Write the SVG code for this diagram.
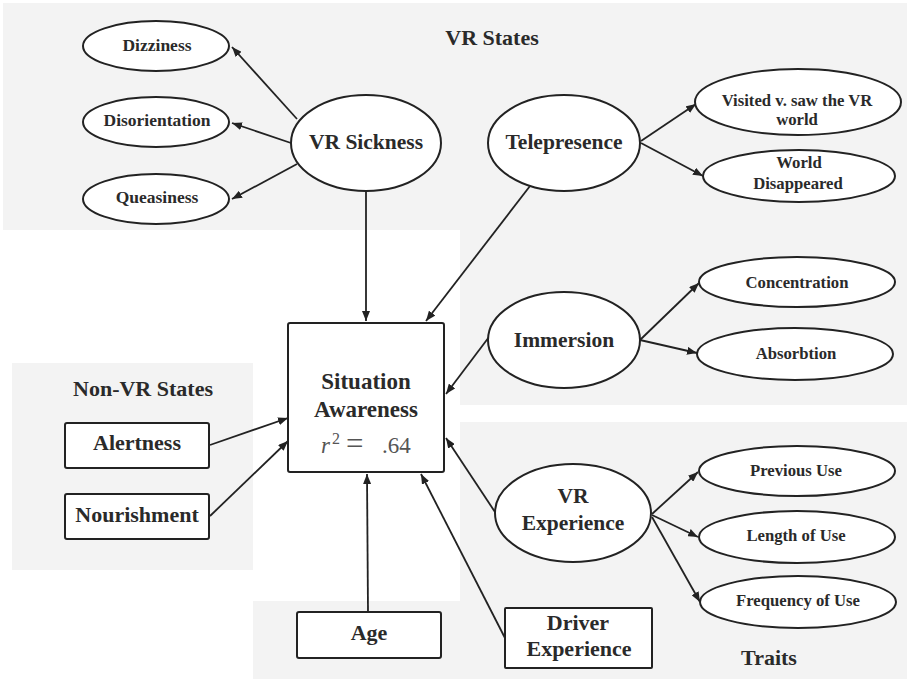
<svg xmlns="http://www.w3.org/2000/svg" width="909" height="680" viewBox="0 0 909 680">
  <style>
    .zone { fill: #f3f3f3; stroke: none; }
    .node { fill: #ffffff; stroke: #222222; stroke-width: 2; }
    .edge { fill: none; stroke: #222222; stroke-width: 1.8; marker-end: url(#arrow); }
    text { font-family: "Liberation Serif", "Times New Roman", serif; font-weight: bold; fill: #2a2a2a; text-anchor: middle; }
    .big { font-size: 21.5px; }
    .small { font-size: 17.5px; }
    .smallr { font-size: 16.7px; }
    .title { font-size: 22px; }
    .stat { font-weight: normal; font-size: 23px; fill: #555555; text-anchor: start; }
  </style>
  <defs>
    <marker id="arrow" viewBox="0 0 10 8" refX="10" refY="4" markerWidth="10" markerHeight="8" markerUnits="userSpaceOnUse" orient="auto">
      <path d="M0,0 L10,4 L0,8 z" fill="#222222"/>
    </marker>
  </defs>

  <rect width="909" height="680" fill="#ffffff"/>

  <!-- grouping panels -->
  <g id="zones">
    <rect class="zone" x="3" y="3" width="904" height="227"/>
    <rect class="zone" x="460" y="229" width="447" height="176"/>
    <rect class="zone" x="12" y="363" width="241" height="207"/>
    <rect class="zone" x="460" y="422" width="447" height="257"/>
    <rect class="zone" x="253" y="601" width="210" height="78"/>
  </g>

  <g id="zone-labels">
    <text class="title" x="492" y="45">VR States</text>
    <text class="title" x="143" y="396">Non-VR States</text>
    <text class="title" x="769" y="665">Traits</text>
  </g>

  <!-- connectors -->
  <g id="connectors">
    <line class="edge" x1="297" y1="119" x2="232" y2="47"/>
    <line class="edge" x1="291" y1="143" x2="232" y2="123"/>
    <line class="edge" x1="297" y1="164" x2="232" y2="199"/>
    <line class="edge" x1="366" y1="191" x2="366" y2="321"/>
    <line class="edge" x1="530" y1="186" x2="426" y2="321"/>
    <line class="edge" x1="641" y1="141" x2="696" y2="104"/>
    <line class="edge" x1="641" y1="143" x2="703" y2="176"/>
    <line class="edge" x1="489" y1="337" x2="446" y2="394"/>
    <line class="edge" x1="640" y1="340" x2="699" y2="283"/>
    <line class="edge" x1="640" y1="340" x2="697" y2="353"/>
    <line class="edge" x1="210" y1="445" x2="288" y2="418"/>
    <line class="edge" x1="210" y1="516" x2="288" y2="441"/>
    <line class="edge" x1="368" y1="612" x2="367" y2="474"/>
    <line class="edge" x1="505" y1="638" x2="421" y2="474"/>
    <line class="edge" x1="495" y1="512" x2="446" y2="438"/>
    <line class="edge" x1="652" y1="514" x2="698" y2="472"/>
    <line class="edge" x1="652" y1="515" x2="698" y2="537"/>
    <line class="edge" x1="652" y1="517" x2="700" y2="602"/>
  </g>

  <!-- VR sickness and its indicators -->
  <g id="dizziness">
    <ellipse class="node" cx="156" cy="46" rx="73" ry="25"/>
    <text class="small" x="157" y="51">Dizziness</text>
  </g>
  <g id="disorientation">
    <ellipse class="node" cx="156" cy="122" rx="73" ry="25"/>
    <text class="small" x="157" y="126">Disorientation</text>
  </g>
  <g id="queasiness">
    <ellipse class="node" cx="156" cy="199" rx="73" ry="25"/>
    <text class="small" x="157" y="203">Queasiness</text>
  </g>
  <g id="vr-sickness">
    <ellipse class="node" cx="366" cy="143" rx="75" ry="48"/>
    <text class="big" x="366" y="149">VR Sickness</text>
  </g>

  <!-- telepresence and its indicators -->
  <g id="telepresence">
    <ellipse class="node" cx="564" cy="143" rx="76" ry="48"/>
    <text class="big" x="564" y="149">Telepresence</text>
  </g>
  <g id="visited">
    <ellipse class="node" cx="798" cy="102" rx="103" ry="33"/>
    <text class="smallr" x="797" y="106">Visited v. saw the VR</text>
    <text class="smallr" x="797" y="125">world</text>
  </g>
  <g id="world-disappeared">
    <ellipse class="node" cx="799" cy="176" rx="96" ry="26"/>
    <text class="smallr" x="799" y="168">World</text>
    <text class="smallr" x="798" y="189">Disappeared</text>
  </g>

  <!-- immersion and its indicators -->
  <g id="immersion">
    <ellipse class="node" cx="564" cy="340" rx="76" ry="48"/>
    <text class="big" x="564" y="347">Immersion</text>
  </g>
  <g id="concentration">
    <ellipse class="node" cx="797" cy="282" rx="98" ry="25"/>
    <text class="smallr" x="797" y="288">Concentration</text>
  </g>
  <g id="absorbtion">
    <ellipse class="node" cx="795" cy="354" rx="98" ry="26"/>
    <text class="smallr" x="796" y="359">Absorbtion</text>
  </g>

  <!-- outcome -->
  <g id="situation-awareness">
    <rect class="node" x="288" y="323" width="156" height="149" rx="2"/>
    <text class="title" x="366" y="389" style="font-size:23px">Situation</text>
    <text class="title" x="366" y="417" style="font-size:23px">Awareness</text>
    <text class="stat" y="453"><tspan x="321" font-style="italic">r</tspan><tspan x="332" y="444" font-size="16">2</tspan><tspan x="346" y="454" font-size="31">=</tspan><tspan x="382" y="453">.64</tspan></text>
  </g>

  <!-- non-VR states -->
  <g id="alertness">
    <rect class="node" x="65" y="423" width="144" height="45" rx="2"/>
    <text class="title" x="137" y="450">Alertness</text>
  </g>
  <g id="nourishment">
    <rect class="node" x="65" y="494" width="144" height="45" rx="2"/>
    <text class="title" x="137" y="522">Nourishment</text>
  </g>

  <!-- traits -->
  <g id="age">
    <rect class="node" x="297" y="612" width="144" height="46" rx="2"/>
    <text class="title" x="369" y="640">Age</text>
  </g>
  <g id="driver-experience">
    <rect class="node" x="505" y="608" width="147" height="60" rx="1"/>
    <text class="title" x="578" y="630">Driver</text>
    <text class="title" x="579" y="656">Experience</text>
  </g>
  <g id="vr-experience">
    <ellipse class="node" cx="573" cy="513" rx="78" ry="49"/>
    <text class="big" x="573" y="503">VR</text>
    <text class="big" x="573" y="530">Experience</text>
  </g>
  <g id="previous-use">
    <ellipse class="node" cx="797" cy="471" rx="98" ry="25"/>
    <text class="smallr" x="796" y="476">Previous Use</text>
  </g>
  <g id="length-of-use">
    <ellipse class="node" cx="797" cy="537" rx="98" ry="26"/>
    <text class="smallr" x="796" y="541">Length of Use</text>
  </g>
  <g id="frequency-of-use">
    <ellipse class="node" cx="798" cy="602" rx="98" ry="26"/>
    <text class="smallr" x="798" y="606">Frequency of Use</text>
  </g>
</svg>
